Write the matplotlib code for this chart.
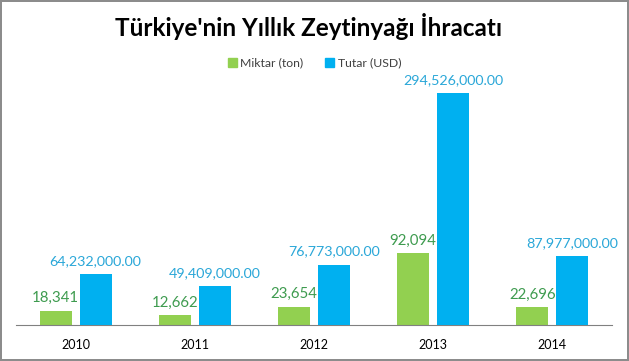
import numpy as np
import matplotlib
matplotlib.use("Agg")
import matplotlib.pyplot as plt
from matplotlib.patches import Patch

years = ["2010", "2011", "2012", "2013", "2014"]
miktar = [18341, 12662, 23654, 92094, 22696]
tutar = [64232000, 49409000, 76773000, 294526000, 87977000]

green = "#92D050"
blue = "#00B0F0"
green_txt = "#3E9B4F"
blue_txt = "#2AA7D8"

plt.rcParams['font.family'] = ['Lato', 'DejaVu Sans']

fig = plt.figure(figsize=(6.29, 3.61), dpi=100)
fig.patch.set_edgecolor("#8c8c8c")
fig.patch.set_linewidth(1.5)

ax = fig.add_axes([16 / 629, 36 / 361, 596 / 629, 245 / 361])
ax2 = ax.twinx()

x = np.arange(len(years))
w = 0.268
off = 0.168

ax.bar(x - off, miktar, w, color=green)
ax2.bar(x + off, tutar, w, color=blue)

# scales (px per unit)
ax.set_ylim(0, 92094 * 245 / 72)
ax2.set_ylim(0, 294526000 * 245 / 232)
ax.set_xlim(-0.5, 4.5)

for xi, v in zip(x, miktar):
    ax.annotate(f"{v:,}", (xi - off, v), xytext=(0, 4), textcoords="offset points",
                ha="center", va="bottom", color=green_txt, fontsize=10.8)
for xi, v in zip(x, tutar):
    ax2.annotate(f"{v:,.2f}", (xi + off, v), xytext=(0, 5), textcoords="offset points",
                 ha="center", va="bottom", color=blue_txt, fontsize=10.3, clip_on=False)

for a in (ax, ax2):
    for s in ("top", "left", "right"):
        a.spines[s].set_visible(False)
    a.set_yticks([])
ax2.spines["bottom"].set_visible(False)
ax.spines["bottom"].set_color("#808080")
ax.set_xticks(x)
ax.set_xticklabels(years, fontsize=9)
ax.tick_params(axis="x", length=0, pad=10)

fig.text(0.491, 1 - 27 / 361, "Türkiye'nin Yıllık Zeytinyağı İhracatı",
         ha="center", va="center", fontsize=17.5, fontweight="bold", color="black")

handles = [Patch(color=green, label="Miktar (ton)"), Patch(color=blue, label="Tutar (USD)")]
fig.legend(handles=handles, loc="center", bbox_to_anchor=(0.5, 1 - 63 / 361), ncol=2,
           frameon=False, fontsize=8.8, handlelength=0.7, handleheight=0.7,
           handletextpad=0.3, columnspacing=1.8, labelcolor="#404040")

fig.savefig("out.png", dpi=100, edgecolor=fig.get_edgecolor())
